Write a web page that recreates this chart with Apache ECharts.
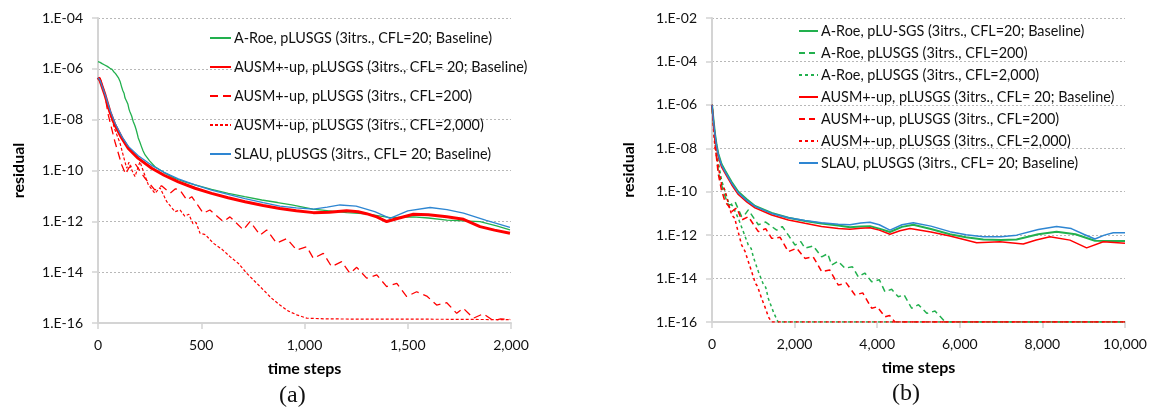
<!DOCTYPE html>
<html><head><meta charset="utf-8">
<script src="https://cdn.jsdelivr.net/npm/echarts@6/dist/echarts.min.js"></script>
<style>html,body{margin:0;padding:0;background:#fff}#c{width:1151px;height:410px}</style>
</head><body><div id="c"></div>
<script>
// ---------- tick labels ----------
const leftYLabels = ['1.E-16','1.E-14','1.E-12','1.E-10','1.E-08','1.E-06','1.E-04'];
const rightYLabels = ['1.E-16','1.E-14','1.E-12','1.E-10','1.E-08','1.E-06','1.E-04','1.E-02'];
const leftXLabels = ['0','500','1,000','1,500','2,000'];
const rightXLabels = ['0','2,000','4,000','6,000','8,000','10,000'];

// ---------- legend names ----------
const leftNames = [
  'A-Roe, pLUSGS (3itrs., CFL=20; Baseline)',
  'AUSM+-up, pLUSGS (3itrs., CFL= 20; Baseline)',
  'AUSM+-up, pLUSGS (3itrs., CFL=200)',
  'AUSM+-up, pLUSGS (3itrs., CFL=2,000)',
  'SLAU, pLUSGS (3itrs., CFL= 20; Baseline)'
];
const rightNames = [
  'A-Roe, pLU-SGS (3itrs., CFL=20; Baseline)',
  'A-Roe, pLUSGS (3itrs., CFL=200)',
  'A-Roe, pLUSGS (3itrs., CFL=2,000)',
  'AUSM+-up, pLUSGS (3itrs., CFL= 20; Baseline)',
  'AUSM+-up, pLUSGS (3itrs., CFL=200)',
  'AUSM+-up, pLUSGS (3itrs., CFL=2,000)',
  'SLAU, pLUSGS (3itrs., CFL= 20; Baseline)'
];

// ---------- (a) data: [time step, residual] ----------
const aRoeBaseA = [[0,1.9e-6],[10,1.8e-6],[20,1.6e-6],[30,1.45e-6],[45,1.25e-6],[58,1.05e-6],[68,9.5e-7],[75,7.9e-7],[85,6.5e-7],[90,5.6e-7],[100,4.3e-7],[107,3.2e-7],[114,2.0e-7],[120,1.4e-7],[126,1.1e-7],[131,7.1e-8],[138,5.4e-8],[145,4.0e-8],[150,2.6e-8],[155,2.0e-8],[163,1.4e-8],[171,8.3e-9],[178,6.0e-9],[185,4.0e-9],[190,2.8e-9],[195,1.9e-9],[203,1.3e-9],[210,8.9e-10],[218,6.0e-10],[228,4.1e-10],[250,2.4e-10],[276,1.4e-10],[320,8.3e-11],[373,4.9e-11],[420,3.6e-11],[470,2.7e-11],[550,1.8e-11],[631,1.26e-11],[710,9.3e-12],[793,6.9e-12],[870,5.5e-12],[938,4.4e-12],[1041,3.0e-12],[1120,2.6e-12],[1204,2.2e-12],[1301,1.95e-12],[1414,1.4e-12],[1527,1.5e-12],[1600,1.35e-12],[1689,1.12e-12],[1770,1.05e-12],[1850,9.8e-13],[1930,6.6e-13],[1995,4.6e-13]];
const ausmBaseA = [[0,4.5e-7],[10,3.5e-7],[34,9.3e-8],[58,2.0e-8],[82,6.2e-9],[115,1.9e-9],[147,7.4e-10],[195,3.0e-10],[260,1.23e-10],[320,6.5e-11],[389,3.6e-11],[470,2.0e-11],[550,1.26e-11],[630,8.5e-12],[712,5.9e-12],[800,4.2e-12],[881,3.2e-12],[960,2.6e-12],[1043,2.2e-12],[1120,2.3e-12],[1204,2.6e-12],[1260,2.4e-12],[1300,2.0e-12],[1350,1.5e-12],[1398,9.8e-13],[1450,1.3e-12],[1527,1.9e-12],[1600,1.8e-12],[1689,1.5e-12],[1770,1.2e-12],[1850,6.2e-13],[1920,4.5e-13],[1995,3.4e-13]];
const ausm200A = [[0,4.5e-7],[10,4.3e-7],[30,1.3e-7],[50,1.5e-8],[82,1.35e-9],[115,1.66e-10],[134,7.2e-11],[150,1.3e-10],[179,1.9e-10],[228,4.9e-11],[276,1.7e-11],[308,2.5e-11],[350,1.3e-11],[375,1.9e-11],[397,1.7e-11],[430,6.9e-12],[454,9.3e-12],[510,2.1e-12],[542,2.8e-12],[607,9.8e-13],[639,1.5e-12],[704,4.6e-13],[736,9.8e-13],[785,2.9e-13],[817,4.6e-13],[865,1.38e-13],[914,2.1e-13],[962,7.4e-14],[1011,1.0e-13],[1043,3.5e-14],[1091,5.5e-14],[1131,1.66e-14],[1180,2.6e-14],[1220,9.1e-15],[1253,1.55e-14],[1301,5.8e-15],[1350,7.8e-15],[1398,2.7e-15],[1447,3.6e-15],[1495,1.1e-15],[1543,1.7e-15],[1592,1.15e-15],[1640,5.1e-16],[1689,6.3e-16],[1737,2.4e-16],[1769,3.8e-16],[1818,1.55e-16],[1866,2.3e-16],[1915,1.23e-16],[1950,1.45e-16],[1995,1.38e-16]];
const ausm2000A = [[0,4.5e-7],[10,4.3e-7],[30,1.2e-7],[58,1.8e-8],[82,4.0e-9],[107,1.17e-9],[125,3.2e-10],[139,1.23e-10],[150,2.1e-10],[165,1.0e-10],[179,5.8e-11],[203,2.2e-10],[244,2.7e-11],[276,1.26e-11],[300,2.1e-11],[333,5.9e-12],[373,2.4e-12],[397,2.8e-12],[420,1.6e-12],[440,1.9e-12],[460,8.0e-13],[475,9.0e-13],[494,3.4e-13],[520,3.0e-13],[558,1.38e-13],[600,8.0e-14],[639,4.1e-14],[680,2.2e-14],[720,9.1e-15],[760,4.3e-15],[801,2.0e-15],[840,9.5e-16],[881,5.1e-16],[920,3.0e-16],[962,2.1e-16],[1011,1.55e-16],[1100,1.45e-16],[1300,1.42e-16],[1500,1.42e-16],[1700,1.4e-16],[2000,1.35e-16]];
const slauBaseA = [[0,4.5e-7],[10,3.5e-7],[34,1.0e-7],[58,2.4e-8],[82,7.4e-9],[115,2.2e-9],[147,8.9e-10],[195,3.8e-10],[260,1.6e-10],[320,8.5e-11],[389,4.7e-11],[470,2.7e-11],[550,1.7e-11],[630,1.15e-11],[712,7.9e-12],[800,5.5e-12],[881,4.0e-12],[960,3.4e-12],[1043,3.0e-12],[1110,3.6e-12],[1172,4.4e-12],[1250,4.0e-12],[1340,2.4e-12],[1414,1.3e-12],[1500,2.6e-12],[1608,3.5e-12],[1690,2.9e-12],[1770,2.1e-12],[1880,1.1e-12],[1995,5.8e-13]];

// ---------- (b) data: [time step, residual] ----------
const aRoeBaseB = [[0,1.0e-6],[40,1.7e-7],[73,4.5e-8],[110,1.45e-8],[153,5.6e-9],[230,1.9e-9],[315,9.5e-10],[476,2.8e-10],[637,1.0e-10],[840,4.5e-11],[1041,2.2e-11],[1445,1.05e-11],[1850,6.3e-12],[2252,4.5e-12],[2650,3.4e-12],[3058,2.8e-12],[3341,2.3e-12],[3600,2.5e-12],[3825,2.6e-12],[4050,2.0e-12],[4309,1.4e-12],[4600,2.4e-12],[4874,3.0e-12],[5300,1.9e-12],[5762,1.1e-12],[6150,8.0e-13],[6568,6.3e-13],[7000,6.0e-13],[7375,6.3e-13],[7900,1.1e-12],[8344,1.45e-12],[8800,1.1e-12],[9272,5.5e-13],[9716,5.4e-13],[10000,5.4e-13]];
const aRoe200B = [[0,1.0e-6],[40,1.1e-7],[73,2.5e-8],[110,4.5e-9],[153,8.3e-10],[274,1.0e-10],[395,2.5e-11],[470,2.6e-11],[557,3.5e-11],[718,7.1e-12],[800,9.0e-12],[879,1.45e-11],[1122,3.0e-12],[1300,4.0e-12],[1566,1.7e-12],[1700,2.5e-12],[1848,1.0e-12],[2009,3.5e-13],[2150,5.0e-13],[2252,2.5e-13],[2450,3.2e-13],[2655,1.0e-13],[2800,1.4e-13],[2898,4.2e-14],[3050,6.3e-14],[3220,3.0e-14],[3400,3.5e-14],[3542,1.2e-14],[3700,1.8e-14],[3866,7.1e-15],[4050,8.9e-15],[4188,2.5e-15],[4350,3.2e-15],[4511,1.45e-15],[4650,1.8e-15],[4834,4.3e-16],[5000,6.3e-16],[5200,2.5e-16],[5400,3.2e-16],[5650,1.0e-16],[10000,1.0e-16]];
const aRoe2000B = [[0,1.0e-6],[40,8e-8],[73,1.6e-8],[150,2.5e-9],[234,3.2e-10],[320,1.0e-10],[400,3.2e-11],[500,2.2e-11],[637,5.9e-12],[750,1.6e-12],[879,3.5e-13],[950,2.4e-13],[1000,1.0e-13],[1122,2.1e-14],[1250,5e-15],[1300,4e-15],[1364,1.2e-15],[1500,2.5e-16],[1600,1.0e-16],[10000,1.0e-16]];
const ausmBaseB = [[0,1.0e-6],[40,1.3e-7],[73,3.5e-8],[110,1.1e-8],[153,4.2e-9],[230,1.4e-9],[315,7.1e-10],[476,2.1e-10],[637,7.4e-11],[840,3.4e-11],[1041,1.8e-11],[1445,8.5e-12],[1850,5.0e-12],[2252,3.5e-12],[2650,2.5e-12],[3058,2.0e-12],[3341,1.85e-12],[3600,2.1e-12],[3825,2.2e-12],[4050,1.7e-12],[4309,1.1e-12],[4550,1.6e-12],[4794,2.0e-12],[5300,1.4e-12],[5762,9.1e-13],[6100,6.3e-13],[6408,4.5e-13],[6972,5.0e-13],[7536,3.9e-13],[7850,6.0e-13],[8183,8.5e-13],[8667,5.9e-13],[9071,2.6e-13],[9474,5.0e-13],[10000,4.2e-13]];
const ausm200B = [[0,1.0e-6],[40,9e-8],[73,2.0e-8],[110,3.5e-9],[153,6.3e-10],[230,1.2e-10],[315,3.5e-11],[400,2.2e-11],[476,1.2e-11],[600,1.8e-11],[718,5.0e-12],[880,7.1e-12],[1122,1.45e-12],[1300,2.0e-12],[1445,7.1e-13],[1650,7.9e-13],[1848,1.74e-13],[2050,2.5e-13],[2252,8.5e-14],[2450,1.0e-13],[2655,2.1e-14],[2850,2.5e-14],[3058,5.0e-15],[3250,6.3e-15],[3462,1.74e-15],[3650,2.2e-15],[3866,4.3e-16],[4000,5.0e-16],[4188,1.74e-16],[4300,2.0e-16],[4430,1.0e-16],[10000,1.0e-16]];
const ausm2000B = [[0,1.0e-6],[40,6e-8],[73,1.0e-8],[150,1.5e-9],[234,2.0e-10],[300,1.3e-10],[350,6e-11],[476,8.5e-12],[550,6e-12],[600,2.5e-12],[718,3.5e-13],[800,1.8e-13],[850,9e-14],[960,2.1e-14],[1050,6e-15],[1100,4.5e-15],[1203,1.2e-15],[1300,4e-16],[1364,1.74e-16],[1440,1.0e-16],[10000,1.0e-16]];
const slauBaseB = [[0,1.0e-6],[40,1.5e-7],[73,4.1e-8],[110,1.3e-8],[153,5.0e-9],[230,1.7e-9],[315,8.5e-10],[476,2.5e-10],[637,8.9e-11],[840,4.0e-11],[1041,2.1e-11],[1445,1.0e-11],[1850,6.3e-12],[2252,4.7e-12],[2650,3.7e-12],[3058,3.2e-12],[3341,3.0e-12],[3600,3.6e-12],[3825,3.9e-12],[4050,3.0e-12],[4309,1.7e-12],[4600,3.0e-12],[4874,3.7e-12],[5300,2.6e-12],[5762,1.45e-12],[6150,1.05e-12],[6568,8.5e-13],[7000,8.5e-13],[7375,1.0e-12],[7900,1.8e-12],[8344,2.5e-12],[8700,2.0e-12],[9000,1.1e-12],[9272,6.6e-13],[9500,1.0e-12],[9716,1.3e-12],[10000,1.3e-12]];

// ---------- build ----------
const GREEN = '#22b04e', RED = '#ff0000', BLUE = '#2e86d2';
const FONT = 'Lato';
const toLog = arr => arr.map(p => [p[0], Math.log10(p[1])]);
function mk(name, data, gi, color, width, dash) {
  return {
    type: 'line', name: name, xAxisIndex: gi, yAxisIndex: gi,
    data: toLog(data), symbol: 'none', showSymbol: false, smooth: false,
    lineStyle: { color: color, width: width, type: dash || 'solid' },
    itemStyle: { color: color }, emphasis: { disabled: true }, silent: true
  };
}
const sp = ' '; // right-panel series keep distinct ids; legend text is trimmed
const series = [
  mk(leftNames[0], aRoeBaseA, 0, GREEN, 1.3),
  mk(leftNames[1], ausmBaseA, 0, RED, 3),
  mk(leftNames[2], ausm200A, 0, RED, 1.3, [8, 5]),
  mk(leftNames[3], ausm2000A, 0, RED, 1.2, [3, 2]),
  mk(leftNames[4], slauBaseA, 0, BLUE, 1.3),
  mk(rightNames[0] + sp, aRoeBaseB, 1, GREEN, 2),
  mk(rightNames[1] + sp, aRoe200B, 1, GREEN, 1.5, [6, 4]),
  mk(rightNames[2] + sp, aRoe2000B, 1, GREEN, 1.5, [3, 3]),
  mk(rightNames[3] + sp, ausmBaseB, 1, RED, 1.5),
  mk(rightNames[4] + sp, ausm200B, 1, RED, 1.5, [6, 4]),
  mk(rightNames[5] + sp, ausm2000B, 1, RED, 1.5, [3, 3]),
  mk(rightNames[6] + sp, slauBaseB, 1, BLUE, 1.5)
];

function yAxis(gi, min, max, labels, gap) {
  return {
    gridIndex: gi, type: 'value', min: min, max: max, interval: 2,
    name: 'residual', nameLocation: 'middle', nameGap: gap, nameRotate: 90,
    nameTextStyle: { fontFamily: FONT, fontSize: 16, fontWeight: 'bold', color: '#000' },
    axisLine: { show: true, lineStyle: { color: '#d4d4d4', width: 2 } },
    axisTick: { show: true, length: 6, lineStyle: { color: '#d4d4d4', width: 1.5 } },
    axisLabel: { fontFamily: FONT, fontSize: 14, color: '#111', margin: 15,
      formatter: v => labels[Math.round((v - min) / 2)] },
    splitLine: { show: true, lineStyle: { color: '#b8b8b8', width: 1, type: [2, 2] } }
  };
}
function xAxis(gi, max, interval, labels) {
  return {
    gridIndex: gi, type: 'value', min: 0, max: max, interval: interval,
    name: 'time steps', nameLocation: 'middle', nameGap: 38,
    nameTextStyle: { fontFamily: FONT, fontSize: 16, fontWeight: 'bold', color: '#000' },
    axisLine: { show: true, onZero: false, lineStyle: { color: '#d4d4d4', width: 2 } },
    axisTick: { show: true, length: 6, lineStyle: { color: '#d4d4d4', width: 1.5 } },
    axisLabel: { fontFamily: FONT, fontSize: 14, color: '#111', margin: 15,
      formatter: v => labels[Math.round(v / interval)] },
    splitLine: { show: false }
  };
}
function legend(names, left, top, gap, iw) {
  return {
    orient: 'vertical', left: left, top: top, itemWidth: iw, itemHeight: 14, itemGap: gap,
    selectedMode: false, padding: 0,
    itemStyle: { opacity: 0 },
    textStyle: { fontFamily: FONT, fontSize: 14.4, color: '#111', padding: [0, 0, 0, -2] },
    data: names, formatter: n => n.trim()
  };
}

const chart = echarts.init(document.getElementById('c'), null, { renderer: 'canvas' });
chart.setOption({
  animation: false,
  backgroundColor: '#ffffff',
  grid: [
    { left: 98, top: 18, width: 413, height: 305 },
    { left: 712, top: 18, width: 413, height: 304 }
  ],
  xAxis: [xAxis(0, 2000, 500, leftXLabels), xAxis(1, 10000, 2000, rightXLabels)],
  yAxis: [yAxis(0, -16, -4, leftYLabels, 71), yAxis(1, -16, -2, rightYLabels, 75)],
  legend: [
    legend(leftNames, 209, 31, 15, 21),
    legend(rightNames.map(n => n + sp), 798, 24, 8, 19)
  ],
  series: series,
  graphic: [
    { type: 'text', left: 279, top: 384, style: { text: '(a)', font: '24px "Liberation Serif"', fill: '#111' } },
    { type: 'text', left: 892, top: 382, style: { text: '(b)', font: '24px "Liberation Serif"', fill: '#111' } }
  ]
});
</script>
</body></html>
